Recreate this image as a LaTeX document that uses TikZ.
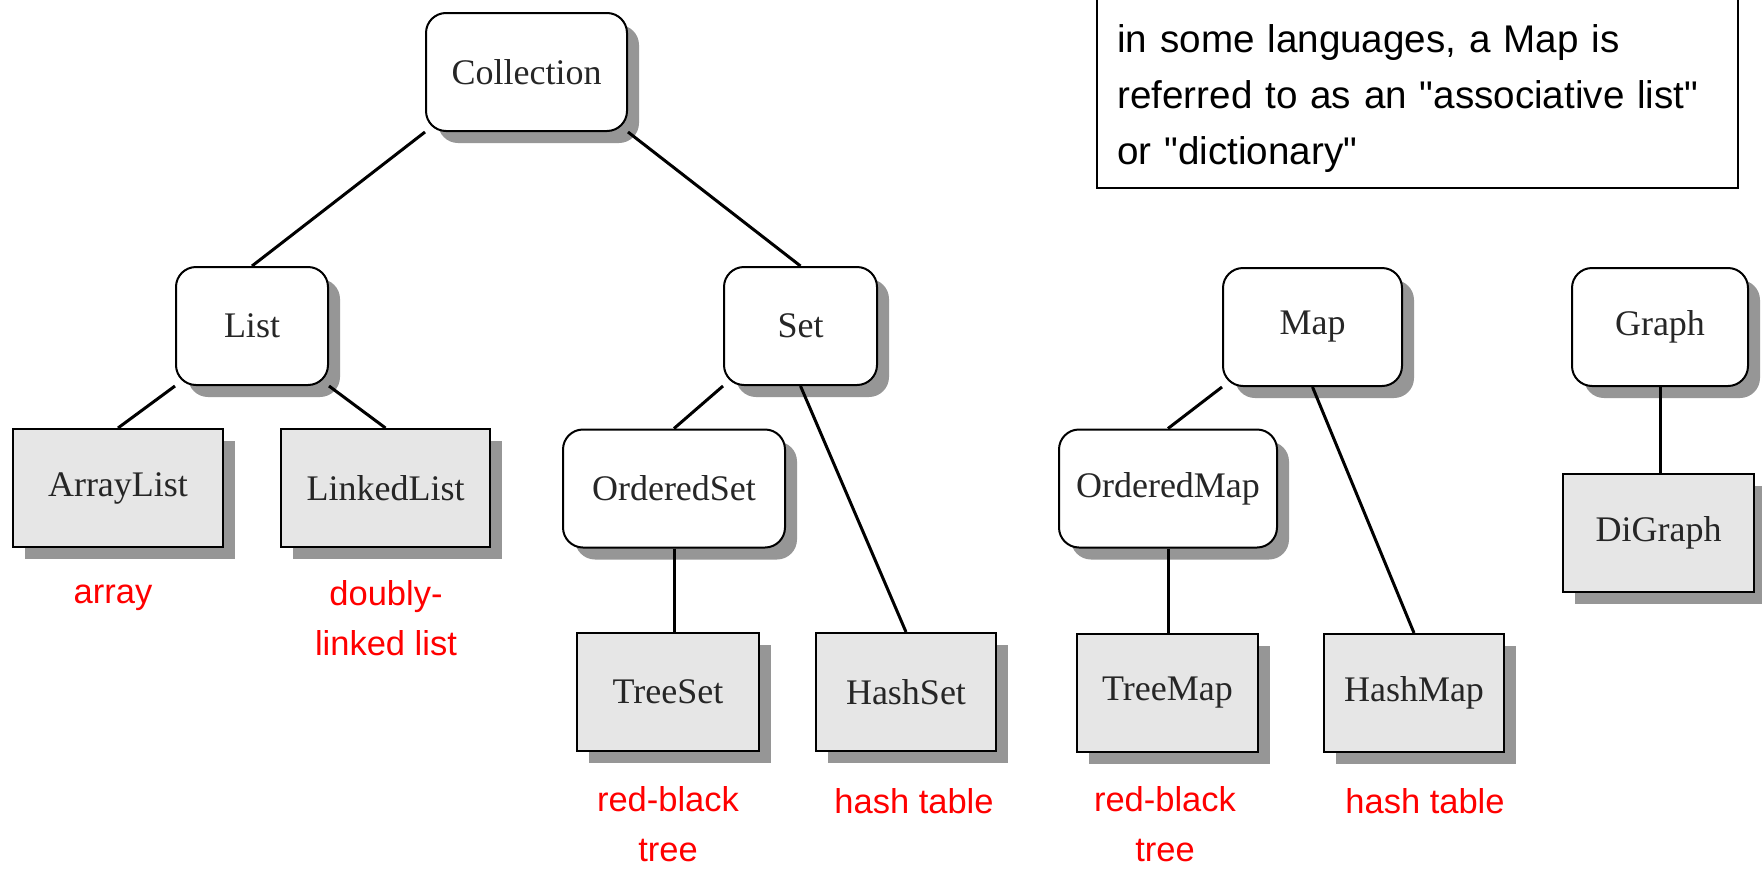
\documentclass[tikz,border=0pt]{standalone}
\usepackage{fontspec}
\usetikzlibrary{shadows}

\newfontfamily\classserif{Liberation Serif}
\newfontfamily\labelsans{Liberation Sans}
\definecolor{shadowgray}{RGB}{150,150,150}
\definecolor{implgray}{RGB}{230,230,230}

\begin{document}
\begin{tikzpicture}[x=0.5pt, y=-0.5pt,
    iface/.style={draw, line width=1pt, rounded corners=10pt, fill=white,
        minimum height=59pt, text=black!85,
        font={\classserif\fontsize{18}{20}\selectfont},
        drop shadow={shadow xshift=6pt, shadow yshift=-6pt, fill=shadowgray, opacity=1}},
    impl/.style={draw, line width=1pt, fill=implgray,
        minimum height=59pt, text=black!85,
        font={\classserif\fontsize{18}{20}\selectfont},
        drop shadow={shadow xshift=6pt, shadow yshift=-6pt, fill=shadowgray, opacity=1}},
    impltext/.style={red, align=center, inner sep=0pt,
        font={\labelsans\fontsize{17.25}{25}\selectfont}},
    link/.style={line width=1.5pt}]
    \useasboundingbox[fill=white] (0,0) rectangle (1762,868);

    % interfaces
    \node[iface, minimum width=100.5pt] (coll) at (526.5,72) {Collection};
    \node[iface, minimum width=76pt] (list) at (252,326) {List};
    \node[iface, minimum width=76.5pt] (set) at (800.5,326) {Set};
    \node[iface, minimum width=89.5pt] (map) at (1312.5,327) {Map};
    \node[iface, minimum width=88pt] (graph) at (1660,327) {Graph};
    \node[iface, minimum width=111pt] (oset) at (674,488.5) {OrderedSet};
    \node[iface, minimum width=109pt] (omap) at (1168,488.5) {OrderedMap};

    % classes
    \node[impl, minimum width=105pt] (alist) at (118,488) {ArrayList};
    \node[impl, minimum width=104.5pt] (llist) at (385.5,488) {LinkedList};
    \node[impl, minimum width=91pt] (tset) at (668,692) {TreeSet};
    \node[impl, minimum width=90pt] (hset) at (906,692) {HashSet};
    \node[impl, minimum width=90.5pt] (tmap) at (1167.5,693) {TreeMap};
    \node[impl, minimum width=90pt] (hmap) at (1414,693) {HashMap};
    \node[impl, minimum width=95.5pt] (dgraph) at (1658.5,533) {DiGraph};

    \draw[link] (coll.south west) -- (list.north);
    \draw[link] (coll.south east) -- (set.north);
    \draw[link] (list.south west) -- (alist.north);
    \draw[link] (list.south east) -- (llist.north);
    \draw[link] (set.south west) -- (oset.north);
    \draw[link] (set.south) -- (hset.north);
    \draw[link] (oset.south) -- (oset.south |- tset.north);
    \draw[link] (map.south west) -- (omap.north);
    \draw[link] (map.south) -- (hmap.north);
    \draw[link] (omap.south) -- (omap.south |- tmap.north);
    \draw[link] (graph.south) -- (graph.south |- dgraph.north);

    % implementations (base = last line)
    \node[impltext, anchor=base] (lalist) at (113,603) {array};
    \node[impltext, anchor=base] (lllist) at (386,655) {doubly-\\linked list};
    \node[impltext, anchor=base] (ltset) at (668,861) {red-black\\tree};
    \node[impltext, anchor=base] (lhset) at (914,813) {hash table};
    \node[impltext, anchor=base] (ltmap) at (1165,861) {red-black\\tree};
    \node[impltext, anchor=base] (lhmap) at (1425,813) {hash table};

    \node[anchor=south west, align=left, text width=300pt,
        inner xsep=10pt, inner ysep=7.5pt,
        font={\labelsans\fontsize{19.3}{28}\selectfont}] (note) at (1097,188)
        {in some languages, a Map is\\referred to as an "associative list"\\or "dictionary"};
    \draw[line width=1pt] (note.south west) rectangle ([yshift=20pt]note.north east);
\end{tikzpicture}
\end{document}
